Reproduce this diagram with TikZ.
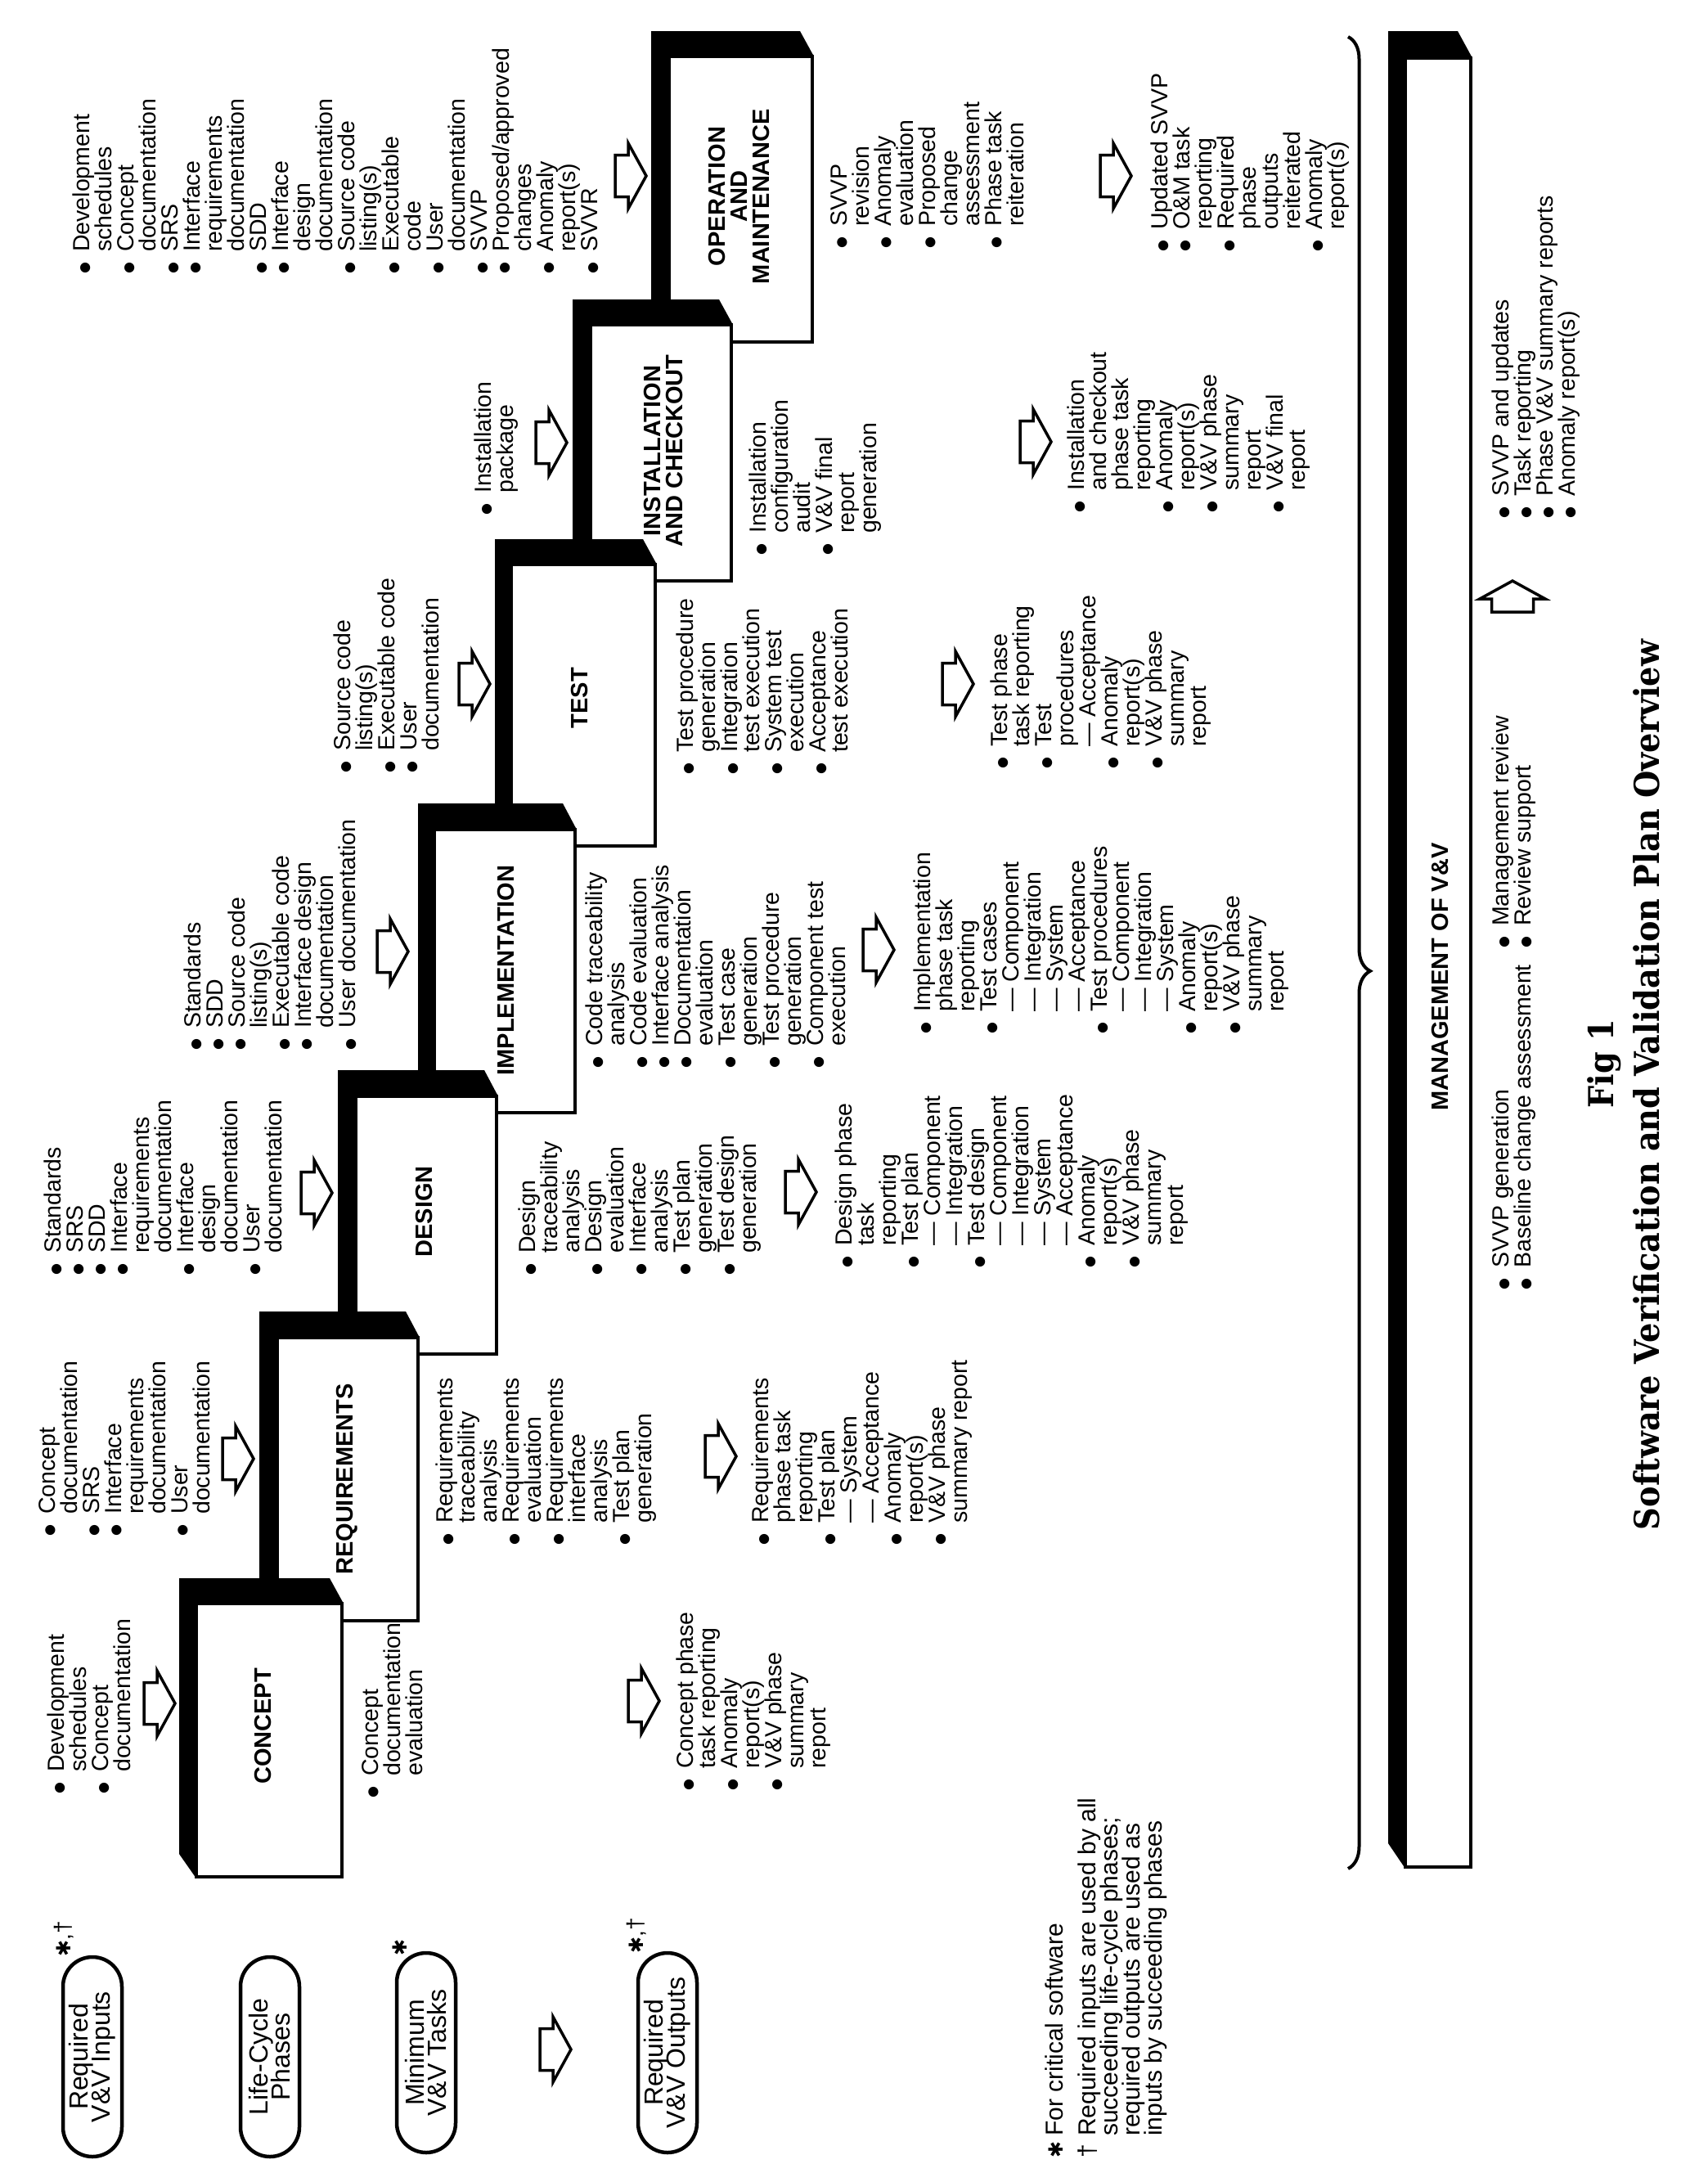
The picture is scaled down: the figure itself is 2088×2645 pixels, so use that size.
\documentclass[tikz,border=0pt]{standalone}
\usepackage{graphicx}
\usepackage{fontspec}
\setmainfont{Liberation Sans}
\newfontfamily\dvsans{DejaVu Sans}
\newfontfamily\titlefont{DejaVu Serif}
\usetikzlibrary{decorations.pathreplacing}
\lineskiplimit=-100pt
\newcommand{\bul}{\makebox[27pt][l]{\raisebox{1.5pt}{\dvsans\fontsize{16}{16}\selectfont ●}}}
\newcommand{\ind}{\hspace*{27pt}}
\newcommand{\mk}{{\dvsans\fontsize{24}{24}\selectfont ✱}}
\tikzset{
  txt/.style={rotate=90, anchor=north west, inner sep=0pt, align=left, font=\fontsize{28.5}{27}\selectfont},
  phase/.style={rotate=90, inner sep=0pt, align=center, font=\bfseries\fontsize{29}{27}\selectfont},
  oval/.style={draw, line width=4.5pt, rounded corners=36pt, minimum width=244pt, minimum height=72pt, rotate=90, inner sep=0pt, align=center, font=\fontsize{32}{27}\selectfont},
  band/.style={fill=black},
  pbox/.style={draw, fill=white, line width=4pt},
  starmark/.style={rotate=90, inner sep=0pt, font=\fontsize{28}{28}\selectfont},
  caption/.style={rotate=90, anchor=base, inner sep=0pt, font=\titlefont\bfseries\fontsize{42}{42}\selectfont},
  fatarrow/.pic={\draw[line width=3.5pt, line join=miter] (-19,-25.5) -- (-3,-25.5) -- (-3,-40) -- (19,0) -- (-3,40) -- (-3,25.5) -- (-19,25.5) -- cycle;}
}
\begin{document}
\begin{tikzpicture}[x=1pt,y=-1pt]
\useasboundingbox (0,0) rectangle (2088,2645);

% phase boxes, last phase first so that each one sits on top of the next
\fill[band] (796,38) -- (978,38) -- (995,69) -- (818,69) -- (818,420) -- (796,390) -- cycle;
\draw[pbox] (818,69) rectangle (993,418);
\fill[band] (700,366) -- (879,366) -- (896,397) -- (722,397) -- (722,712) -- (700,682) -- cycle;
\draw[pbox] (722,397) rectangle (894,710);
\fill[band] (605,659) -- (786,659) -- (803,690) -- (625,690) -- (625,1036) -- (605,1006) -- cycle;
\draw[pbox] (625,690) rectangle (801,1034);
\fill[band] (511,982) -- (688,982) -- (705,1014) -- (531,1014) -- (531,1362) -- (511,1332) -- cycle;
\draw[pbox] (531,1014) rectangle (703,1360);
\fill[band] (413,1308) -- (592,1308) -- (609,1340) -- (435,1340) -- (435,1657) -- (413,1627) -- cycle;
\draw[pbox] (435,1340) rectangle (607,1655);
\fill[band] (317,1603) -- (496,1603) -- (513,1635) -- (339,1635) -- (339,1983) -- (317,1953) -- cycle;
\draw[pbox] (339,1635) rectangle (511,1981);
\fill[band] (219,1929) -- (403,1929) -- (420,1960) -- (240,1960) -- (240,2296) -- (219,2266) -- cycle;
\draw[pbox] (240,1960) rectangle (418,2294);

% management box
\fill[band] (1697,38) -- (1782,38) -- (1800,71) -- (1718,71) -- (1718,2284) -- (1697,2253) -- cycle;
\draw[pbox] (1718,71) rectangle (1798,2282);

\node[phase] (concept) at (322,2110) {CONCEPT};
\node[phase] (requirements) at (424,1808) {REQUIREMENTS};
\node[phase] (design) at (519,1481) {DESIGN};
\node[phase] (implementation) at (619,1186) {IMPLEMENTATION};
\node[phase] (test) at (709,853) {TEST};
\node[phase] (installation) at (811,551) {INSTALLATION\\AND CHECKOUT};
\node[phase] (operation) at (904,240) {OPERATION\\AND\\MAINTENANCE};
\node[phase] (management) at (1760,1194) {MANAGEMENT OF V\&V};

% required inputs
\node[txt] (in-concept) at (58,2193) {\bul Development\\\ind schedules\\\bul Concept\\\ind documentation};
\node[txt] (in-req) at (47,1878) {\bul Concept\\\ind documentation\\\bul SRS\\\bul Interface\\\ind requirements\\\ind documentation\\\bul User\\\ind documentation};
\node[txt] (in-design) at (54,1559) {\bul Standards\\\bul SRS\\\bul SDD\\\bul Interface\\\ind requirements\\\ind documentation\\\bul Interface\\\ind design\\\ind documentation\\\bul User\\\ind documentation};
\node[txt] (in-impl) at (225,1284) {\bul Standards\\\bul SDD\\\bul Source code\\\ind listing(s)\\\bul Executable code\\\bul Interface design\\\ind documentation\\\bul User documentation};
\node[txt] (in-test) at (408,945) {\bul Source code\\\ind listing(s)\\\bul Executable code\\\bul User\\\ind documentation};
\node[txt] (in-inst) at (580,630) {\bul Installation\\\ind package};
\node[txt] (in-oper) at (89,335) {\bul Development\\\ind schedules\\\bul Concept\\\ind documentation\\\bul SRS\\\bul Interface\\\ind requirements\\\ind documentation\\\bul SDD\\\bul Interface\\\ind design\\\ind documentation\\\bul Source code\\\ind listing(s)\\\bul Executable\\\ind code\\\bul User\\\ind documentation\\\bul SVVP\\\bul Proposed/approved\\\ind changes\\\bul Anomaly\\\ind report(s)\\\bul SVVR};

% minimum tasks
\node[txt] (task-concept) at (442,2198) {\bul Concept\\\ind documentation\\\ind evaluation};
\node[txt] (task-req) at (533,1889) {\bul Requirements\\\ind traceability\\\ind analysis\\\bul Requirements\\\ind evaluation\\\bul Requirements\\\ind interface\\\ind analysis\\\bul Test plan\\\ind generation};
\node[txt] (task-design) at (634,1559) {\bul Design\\\ind traceability\\\ind analysis\\\bul Design\\\ind evaluation\\\bul Interface\\\ind analysis\\\bul Test plan\\\ind generation\\\bul Test design\\\ind generation};
\node[txt] (task-impl) at (716,1306) {\bul Code traceability\\\ind analysis\\\bul Code evaluation\\\bul Interface analysis\\\bul Documentation\\\ind evaluation\\\bul Test case\\\ind generation\\\bul Test procedure\\\ind generation\\\bul Component test\\\ind execution};
\node[txt] (task-test) at (827,947) {\bul Test procedure\\\ind generation\\\bul Integration\\\ind test execution\\\bul System test\\\ind execution\\\bul Acceptance\\\ind test execution};
\node[txt] (task-inst) at (916,679) {\bul Installation\\\ind configuration\\\ind audit\\\bul V\&V final\\\ind report\\\ind generation};
\node[txt] (task-oper) at (1015,304) {\bul SVVP\\\ind revision\\\bul Anomaly\\\ind evaluation\\\bul Proposed\\\ind change\\\ind assessment\\\bul Phase task\\\ind reiteration};

% required outputs
\node[txt] (out-concept) at (827,2189) {\bul Concept phase\\\ind task reporting\\\bul Anomaly\\\ind report(s)\\\bul V\&V phase\\\ind summary\\\ind report};
\node[txt] (out-req) at (919,1889) {\bul Requirements\\\ind phase task\\\ind reporting\\\bul Test plan\\\ind — System\\\ind — Acceptance\\\bul Anomaly\\\ind report(s)\\\bul V\&V phase\\\ind summary report};
\node[txt] (out-design) at (1021,1550) {\bul Design phase\\\ind task\\\ind reporting\\\bul Test plan\\\ind — Component\\\ind — Integration\\\bul Test design\\\ind — Component\\\ind — Integration\\\ind — System\\\ind — Acceptance\\\bul Anomaly\\\ind report(s)\\\bul V\&V phase\\\ind summary\\\ind report};
\node[txt] (out-impl) at (1117,1264) {\bul Implementation\\\ind phase task\\\ind reporting\\\bul Test cases\\\ind — Component\\\ind — Integration\\\ind — System\\\ind — Acceptance\\\bul Test procedures\\\ind — Component\\\ind — Integration\\\ind — System\\\bul Anomaly\\\ind report(s)\\\bul V\&V phase\\\ind summary\\\ind report};
\node[txt] (out-test) at (1211,940) {\bul Test phase\\\ind task reporting\\\bul Test\\\ind procedures\\\ind — Acceptance\\\bul Anomaly\\\ind report(s)\\\bul V\&V phase\\\ind summary\\\ind report};
\node[txt] (out-inst) at (1305,627) {\bul Installation\\\ind and checkout\\\ind phase task\\\ind reporting\\\bul Anomaly\\\ind report(s)\\\bul V\&V phase\\\ind summary\\\ind report\\\bul V\&V final\\\ind report};
\node[txt] (out-oper) at (1407,308) {\bul Updated SVVP\\\bul O\&M task\\\ind reporting\\\bul Required\\\ind phase\\\ind outputs\\\ind reiterated\\\bul Anomaly\\\ind report(s)};

% hollow arrows
\pic at (195,2082) {fatarrow};
\pic at (291,1783) {fatarrow};
\pic at (387,1458) {fatarrow};
\pic at (480,1163) {fatarrow};
\pic at (580,836) {fatarrow};
\pic at (674,541) {fatarrow};
\pic at (771,215) {fatarrow};
\pic at (787,2079) {fatarrow};
\pic at (881,1780) {fatarrow};
\pic at (979,1457) {fatarrow};
\pic at (1074,1161) {fatarrow};
\pic at (1171,836) {fatarrow};
\pic at (1266,540) {fatarrow};
\pic at (1364,215) {fatarrow};
\pic at (679,2505) {fatarrow};
\pic[rotate=90] at (1849,729) {fatarrow};

% management of V&V
\draw[line width=4pt, decorate, decoration={brace, amplitude=27pt, aspect=0.51}] (1648,45) -- (1648,2284);
\node[txt] (mgmt-a) at (1824,1577) {\bul SVVP generation\\\bul Baseline change assessment};
\node[txt] (mgmt-b) at (1824,1159) {\bul Management review\\\bul Review support};
\node[txt] (mgmt-c) at (1824,634) {\bul SVVP and updates\\\bul Task reporting\\\bul Phase V\&V summary reports\\\bul Anomaly report(s)};

% legend
\node[oval] (leg-in) at (113,2514) {Required\\V\&V Inputs};
\node[oval] (leg-phase) at (330,2514) {Life-Cycle\\Phases};
\node[oval] (leg-task) at (521,2509) {Minimum\\V\&V Tasks};
\node[oval] (leg-out) at (816,2509) {Required\\V\&V Outputs};
\node[starmark] (mark-in) at (78,2370) {\mk,†};
\node[starmark] (mark-task) at (489,2380) {\mk};
\node[starmark] (mark-out) at (778,2366) {\mk,†};
\node[txt, font=\fontsize{30}{27}\selectfont] (note) at (1278,2638) {\makebox[27pt][l]{\mk}For critical software\\[13pt]\makebox[27pt][l]{†}Required inputs are used by all\\\ind succeeding life-cycle phases;\\\ind required outputs are used as\\\ind inputs by succeeding phases};

% caption
\node[caption] (fig) at (1972,1300) {\scalebox{0.91}[1]{Fig 1}};
\node[caption] (title) at (2028,1326) {\scalebox{0.91}[1]{Software Verification and Validation Plan Overview}};
\end{tikzpicture}
\end{document}
